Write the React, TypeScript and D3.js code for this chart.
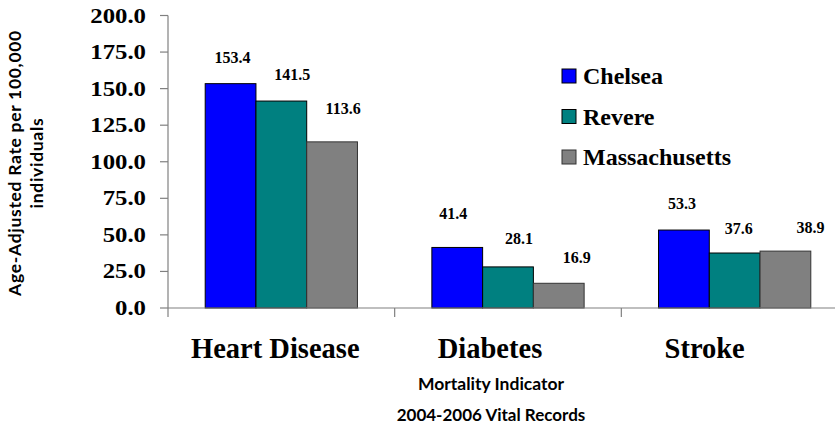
import * as d3 from "d3";

const categories = ["Heart Disease", "Diabetes", "Stroke"];
const seriesNames = ["Chelsea", "Revere", "Massachusetts"];
const chelsea = [153.4, 41.4, 53.3];
const revere = [141.5, 28.1, 37.6];
const massachusetts = [113.6, 16.9, 38.9];
const yTicks = [0, 25, 50, 75, 100, 125, 150, 175, 200];

const colors = ["#0000ff", "#008080", "#808080"];
const borders = ["#000000", "#000000", "#333333"];

// hand-placed data labels in the original (dx from bar centre, gap above bar top)
const labelNudge: [number, number][][] = [
  [[2, 21], [-4, 28], [-2, 21]],
  [[11, 21], [11, 23], [4, 19]],
  [[11, 28], [18, 20], [25, 18]],
];

const W = 835;
const H = 435;
const serif = "'Liberation Serif', 'Times New Roman', serif";
const sans = "Lato, 'Open Sans', sans-serif";

export default function App() {
  const values = [chelsea, revere, massachusetts];

  const y = d3.scaleLinear().domain([0, 200]).range([308, 15.5]);
  const x0 = d3.scaleBand<string>().domain(categories).range([168, 848]).padding(0);
  const x1 = d3
    .scaleBand<string>()
    .domain(seriesNames)
    .range([0, x0.bandwidth()])
    .paddingInner(0)
    .paddingOuter(0.733);
  const xLab = d3.scaleBand<string>().domain(categories).range([168, 812]);

  const axisColor = "#808080";

  return (
    <svg
      width={W}
      height={H}
      style={{ position: "absolute", left: 0, top: 0, background: "#fff" }}
    >
      {/* y axis */}
      <line x1={168} x2={168} y1={y(200)} y2={y(0)} stroke={axisColor} strokeWidth={1.2} />
      {yTicks.map((t) => (
        <g key={t}>
          <line x1={160} x2={168} y1={y(t)} y2={y(t)} stroke={axisColor} strokeWidth={1.2} />
          <text
            transform={`translate(146,${y(t) + 7}) scale(1.18,1)`}
            textAnchor="end"
            fontFamily={serif}
            fontWeight="bold"
            fontSize={21}
            fill="#000"
          >
            {t.toFixed(1)}
          </text>
        </g>
      ))}

      {/* bars */}
      {categories.map((c, ci) => (
        <g key={c} transform={`translate(${x0(c)},0)`}>
          {seriesNames.map((s, si) => {
            const v = values[si][ci];
            const bx = x1(s)!;
            const [dx, dy] = labelNudge[si][ci];
            return (
              <g key={s}>
                <rect
                  x={bx}
                  y={y(v)}
                  width={x1.bandwidth()}
                  height={y(0) - y(v)}
                  fill={colors[si]}
                  stroke={borders[si]}
                  strokeWidth={1}
                />
                <text
                  x={bx + x1.bandwidth() / 2 + dx}
                  y={y(v) - dy}
                  textAnchor="middle"
                  fontFamily={serif}
                  fontWeight="bold"
                  fontSize={16}
                  fill="#000"
                >
                  {v.toFixed(1)}
                </text>
              </g>
            );
          })}
        </g>
      ))}

      {/* x axis */}
      <line x1={168} x2={W} y1={y(0)} y2={y(0)} stroke={axisColor} strokeWidth={1.2} />
      {categories.map((c) => (
        <line
          key={c}
          x1={x0(c)!}
          x2={x0(c)!}
          y1={y(0)}
          y2={y(0) + 9}
          stroke={axisColor}
          strokeWidth={1.2}
        />
      ))}
      {categories.map((c) => (
        <text
          key={c}
          x={xLab(c)! + xLab.bandwidth() / 2}
          y={358}
          textAnchor="middle"
          fontFamily={serif}
          fontWeight="bold"
          fontSize={28.5}
          fill="#000"
        >
          {c}
        </text>
      ))}

      {/* axis titles */}
      <text x={491} y={390} textAnchor="middle" fontFamily={sans} fontWeight="bold" fontSize={17.5}>
        Mortality Indicator
      </text>
      <text x={491} y={421} textAnchor="middle" fontFamily={sans} fontWeight="bold" fontSize={17}>
        2004-2006 Vital Records
      </text>
      <g
        transform="translate(0,163) rotate(-90)"
        fontFamily={sans}
        fontWeight="bold"
        fontSize={17.5}
        letterSpacing={0.7}
      >
        <text x={0} y={21} textAnchor="middle">
          Age-Adjusted Rate per 100,000
        </text>
        <text x={0} y={43} textAnchor="middle">
          individuals
        </text>
      </g>

      {/* legend */}
      {seriesNames.map((s, i) => (
        <g key={s} transform={`translate(562,${69 + i * 40.5})`}>
          <rect width={14} height={14} fill={colors[i]} stroke={borders[i]} strokeWidth={1} />
          <text x={21} y={15} fontFamily={serif} fontWeight="bold" fontSize={24} fill="#000">
            {s}
          </text>
        </g>
      ))}
    </svg>
  );
}
